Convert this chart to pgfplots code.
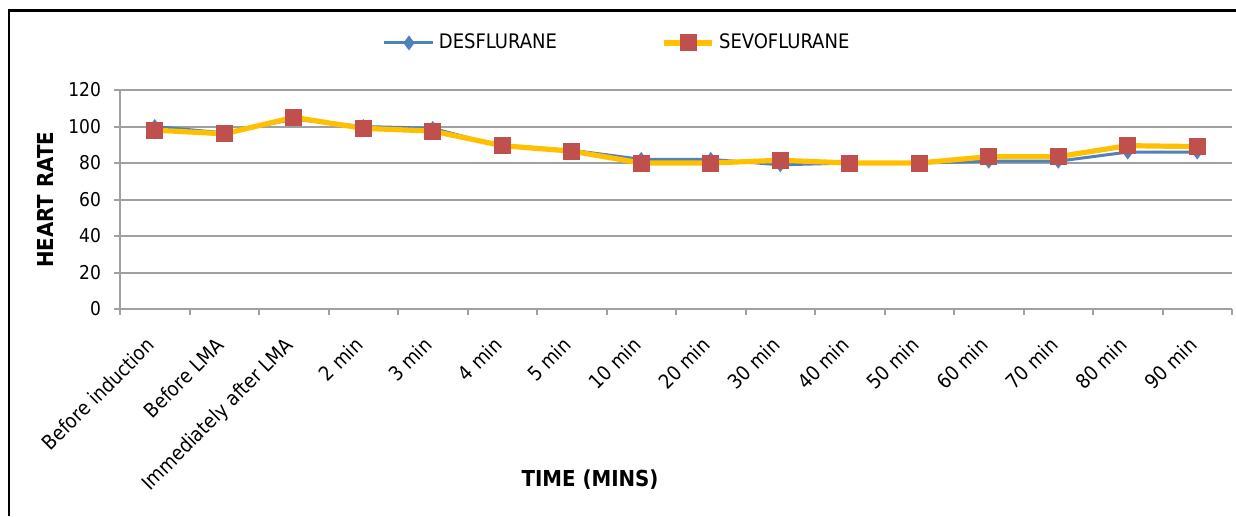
\documentclass[border=0pt]{standalone}
\usepackage{pgfplots}
\pgfplotsset{compat=1.18}
\usepackage{fontspec}
\setmainfont{DejaVu Sans Condensed}
\definecolor{desblue}{HTML}{4F81BD}
\definecolor{sevyellow}{HTML}{FFC000}
\definecolor{sevred}{HTML}{C0504D}
\definecolor{gridgray}{HTML}{A0A0A0}
\begin{document}
\begin{tikzpicture}
\useasboundingbox (0,0) rectangle (618pt,258pt);
\draw[line width=1.3pt] (4.5pt,0) -- (4.5pt,252.75pt) -- (618pt,252.75pt);
\begin{axis}[
  at={(60pt,103.5pt)}, anchor=south west,
  scale only axis, width=556pt, height=109.5pt,
  xmin=-0.5, xmax=15.5, ymin=0, ymax=120,
  ytick={0,20,...,120},
  xtick={-0.5,0.5,...,15.5}, xticklabels={},
  extra x ticks={0,1,...,15},
  extra x tick labels={Before induction,Before LMA,Immediately after LMA,2 min,3 min,4 min,5 min,10 min,20 min,30 min,40 min,50 min,60 min,70 min,80 min,90 min},
  extra x tick style={major tick length=0pt, xticklabel style={rotate=45, anchor=north east, xshift=-9.5pt, yshift=-2.5pt, font=\fontsize{10pt}{11pt}\selectfont}},
  axis x line=bottom, axis y line=left,
  axis line style={-, gridgray, line width=1pt},
  ymajorgrids, grid style={gridgray, line width=1pt},
  tick style={gridgray, line width=1pt},
  major tick length=3pt,
  tick align=outside,
  /pgf/number format/assume math mode=true,
  ticklabel style={font=\fontsize{9.5pt}{10pt}\selectfont, text=black},
  yticklabel style={xshift=-3pt},
  ylabel={\textbf{HEART RATE}},
  ylabel style={at={(axis description cs:-0.0674,0.498)}, anchor=center, font=\fontsize{11pt}{12pt}\selectfont},
  xlabel={\textbf{TIME (MINS)}},
  xlabel style={at={(axis description cs:0.4227,-0.781)}, anchor=center, font=\fontsize{11pt}{12pt}\selectfont},
  legend columns=2,
  legend style={at={(axis description cs:0.448,1.215)}, anchor=center, draw=none, fill=none,
    font=\fontsize{10pt}{11pt}\selectfont,
    /tikz/every even column/.append style={column sep=50pt}},
  legend image code/.code={\draw[mark repeat=2,mark phase=2,#1] plot coordinates {(0cm,0cm) (0.43cm,0cm) (0.86cm,0cm)};},
  clip=false,
]
\addplot[desblue, line width=1.5pt, mark=diamond*, mark size=2.5pt, mark options={solid, fill=desblue}]
  coordinates {(0,100) (1,96.5) (2,104) (3,100) (4,99) (5,89) (6,87) (7,82) (8,82) (9,79) (10,80) (11,80) (12,81) (13,81) (14,86) (15,86)};
\addlegendentry{DESFLURANE}
\addplot[sevyellow, line width=2.6pt, mark=square*, mark size=4pt, mark options={solid, fill=sevred, draw=sevred, line width=0.5pt}]
  coordinates {(0,98) (1,96) (2,105) (3,99) (4,97.5) (5,89.5) (6,86.5) (7,80) (8,80) (9,81.5) (10,80) (11,80) (12,83.5) (13,83.5) (14,89.5) (15,89)};
\addlegendentry{SEVOFLURANE}
\end{axis}
\end{tikzpicture}
\end{document}
